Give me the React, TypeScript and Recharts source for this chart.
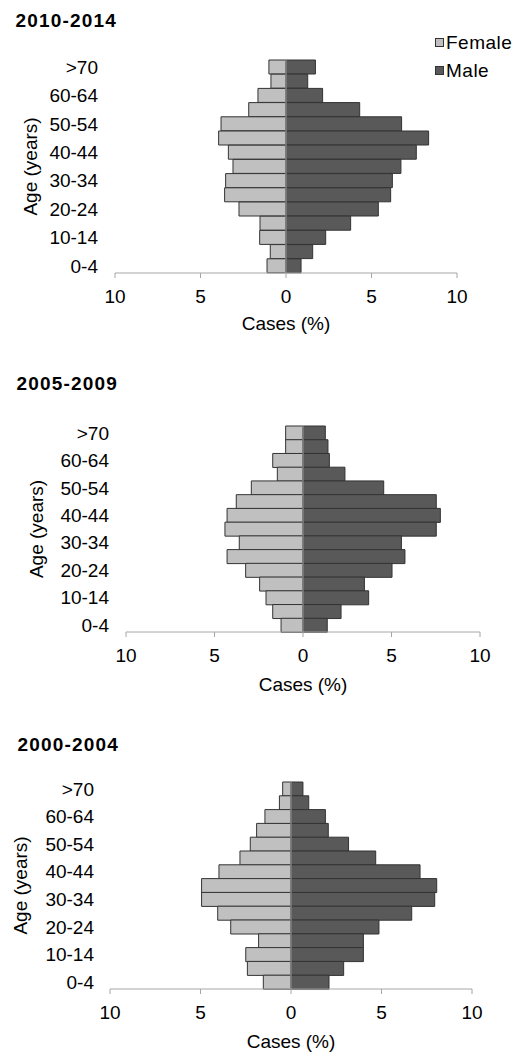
import React from 'react';
import { BarChart, Bar, XAxis, YAxis, ReferenceLine, Legend } from 'recharts';

// Age groups, bottom (youngest) to top (oldest)
const ageGroups = ['0-4', '5-9', '10-14', '15-19', '20-24', '25-29', '30-34', '35-39', '40-44', '45-49', '50-54', '55-59', '60-64', '65-69', '>70'];

// Cases (%) by age group
const female2010 = [1.11, 0.92, 1.54, 1.52, 2.75, 3.59, 3.53, 3.1, 3.37, 3.94, 3.8, 2.18, 1.64, 0.88, 1.0];
const male2010 = [0.88, 1.56, 2.32, 3.78, 5.4, 6.12, 6.22, 6.72, 7.62, 8.34, 6.76, 4.31, 2.14, 1.27, 1.72];

const female2005 = [1.24, 1.71, 2.09, 2.45, 3.24, 4.29, 3.6, 4.41, 4.29, 3.77, 2.92, 1.45, 1.71, 0.98, 0.98];
const male2005 = [1.37, 2.15, 3.71, 3.47, 5.03, 5.76, 5.56, 7.53, 7.76, 7.53, 4.56, 2.37, 1.49, 1.41, 1.26];

const female2000 = [1.53, 2.41, 2.5, 1.79, 3.33, 4.05, 4.94, 4.94, 3.98, 2.82, 2.25, 1.9, 1.44, 0.64, 0.46];
const male2000 = [2.1, 2.91, 4.0, 4.0, 4.86, 6.67, 7.94, 8.05, 7.13, 4.68, 3.18, 2.06, 1.9, 0.98, 0.66];

const xTicks = [-10, -5, 0, 5, 10];

const FONT = '"Liberation Sans", Arial, Helvetica, sans-serif';
const FEMALE = '#c0c0c0';
const MALE = '#595959';
const EDGE = '#333333';
const AXIS = '#a6a6a6';
const FS = 19;

function buildRows(female: number[], male: number[]) {
  return ageGroups
    .map((age, i) => ({ age, female: -female[i], male: male[i] }))
    .reverse();
}

const LegendBox = (props: any) => {
  const payload = props.payload || [];
  return (
    <div style={{ fontFamily: FONT, fontSize: FS, color: '#000', lineHeight: '19px' }}>
      {payload.map((p: any) => (
        <div key={p.value} style={{ height: 28, display: 'flex', alignItems: 'center' }}>
          <span
            style={{
              display: 'inline-block',
              width: 7,
              height: 7,
              background: p.color,
              border: `1px solid ${EDGE}`,
              marginRight: 2,
            }}
          />
          <span style={{ letterSpacing: 0.5 }}>{p.value}</span>
        </div>
      ))}
    </div>
  );
};

type PanelProps = {
  title: string;
  female: number[];
  male: number[];
  top: number;
  height: number;
  plotTop: number;
  plotBottom: number;
  plotLeft: number;
  plotRight: number;
  labelRight: number;
  ageX: number;
  titleCenter: number;
  titleLeft: number;
  casesCenter: number;
  legend?: boolean;
};

function Panel(p: PanelProps) {
  const rows = buildRows(p.female, p.male);
  const xAxisHeight = 60;
  const pt = p.plotTop - p.top;
  const pb = p.plotBottom - p.top;
  const marginBottom = p.height - pb - xAxisHeight;
  const casesOffset = p.plotBottom + xAxisHeight - (p.casesCenter + 6.8);
  return (
    <>
      <div
        style={{
          position: 'absolute',
          left: p.titleLeft,
          top: p.titleCenter - 9.3,
          fontFamily: FONT,
          fontWeight: 'bold',
          fontSize: FS,
          lineHeight: '19px',
          letterSpacing: 1.2,
          color: '#000',
          whiteSpace: 'nowrap',
        }}
      >
        {p.title}
      </div>
      <div style={{ position: 'absolute', left: 0, top: p.top }}>
        <BarChart
          width={517}
          height={p.height}
          data={rows}
          layout="vertical"
          stackOffset="sign"
          barCategoryGap={0}
          barGap={0}
          margin={{ top: pt, right: 517 - p.plotRight, bottom: marginBottom, left: 0 }}
        >
          <XAxis
            type="number"
            domain={[-10, 10]}
            ticks={xTicks}
            tickFormatter={(v: number) => String(Math.abs(v))}
            height={xAxisHeight}
            axisLine={{ stroke: AXIS }}
            tickLine={{ stroke: AXIS }}
            tickSize={5}
            tickMargin={12}
            tick={{ fontSize: FS, fill: '#000', fontFamily: FONT }}
            allowDataOverflow
            label={{
              value: 'Cases (%)',
              position: 'insideBottom',
              offset: casesOffset,
              style: { fontSize: FS, fill: '#000', fontFamily: FONT },
            }}
          />
          <YAxis
            type="category"
            dataKey="age"
            width={p.plotLeft}
            axisLine={false}
            tickLine={false}
            interval={1}
            tickSize={p.plotLeft - p.labelRight - 2}
            tickMargin={2}
            tick={{ fontSize: FS, fill: '#000', fontFamily: FONT }}
            label={{
              value: 'Age (years)',
              angle: -90,
              position: 'insideLeft',
              offset: p.ageX,
              style: { textAnchor: 'middle', fontSize: FS, fill: '#000', fontFamily: FONT },
            }}
          />
          <Bar dataKey="female" name="Female" stackId="a" fill={FEMALE} stroke={EDGE} strokeWidth={1} isAnimationActive={false} />
          <Bar dataKey="male" name="Male" stackId="a" fill={MALE} stroke={EDGE} strokeWidth={1} isAnimationActive={false} />
          <ReferenceLine x={0} stroke={AXIS} strokeWidth={1} />
          {p.legend && (
            <Legend
              layout="vertical"
              align="center"
              verticalAlign="middle"
              content={(props: any) => <LegendBox {...props} />}
              wrapperStyle={{ left: 435, top: 28, width: 82 }}
            />
          )}
        </BarChart>
      </div>
    </>
  );
}

export default function App() {
  return (
    <div style={{ position: 'absolute', left: 0, top: 0, width: 517, height: 1054, background: '#fff' }}>
      <Panel
        title="2010-2014"
        female={female2010}
        male={male2010}
        top={0}
        height={340}
        plotTop={60}
        plotBottom={273}
        plotLeft={115}
        plotRight={457}
        labelRight={98}
        ageX={30}
        titleCenter={20}
        titleLeft={15.4}
        casesCenter={323}
        legend
      />
      <Panel
        title="2005-2009"
        female={female2005}
        male={male2005}
        top={340}
        height={360}
        plotTop={426}
        plotBottom={632}
        plotLeft={126}
        plotRight={480}
        labelRight={109}
        ageX={36}
        titleCenter={383}
        titleLeft={16.4}
        casesCenter={684}
      />
      <Panel
        title="2000-2004"
        female={female2000}
        male={male2000}
        top={700}
        height={354}
        plotTop={782}
        plotBottom={989}
        plotLeft={110}
        plotRight={472}
        labelRight={94}
        ageX={20}
        titleCenter={744}
        titleLeft={17.4}
        casesCenter={1041}
      />
    </div>
  );
}
